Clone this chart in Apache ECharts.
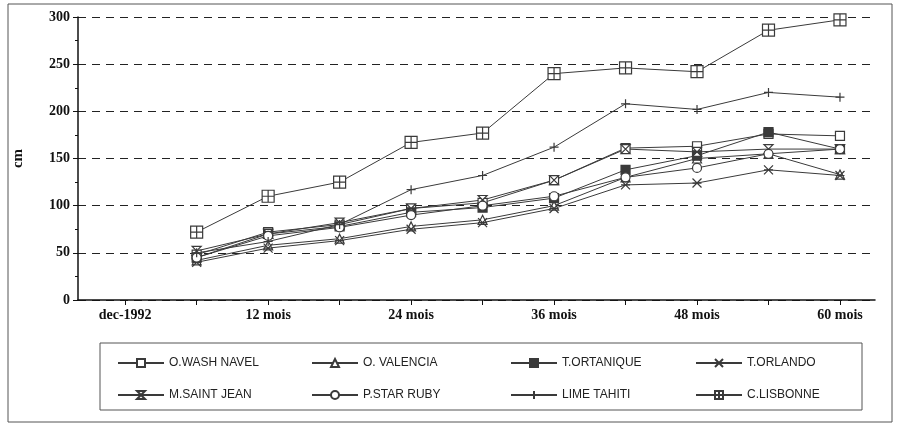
<!DOCTYPE html>
<html><head><meta charset="utf-8">
<script src="https://cdn.jsdelivr.net/npm/echarts@6/dist/echarts.min.js"></script>
<style>html,body{margin:0;padding:0;background:#fff}#c{width:900px;height:426px}</style>
</head><body><div id="c"></div>
<script>
const categories = ['dec-1992','6 mois','12 mois','18 mois','24 mois','30 mois','36 mois','42 mois','48 mois','54 mois','60 mois'];
const tickLabels = ['dec-1992','12 mois','24 mois','36 mois','48 mois','60 mois'];
const seriesNames = ['O.WASH NAVEL','O. VALENCIA','T.ORTANIQUE','T.ORLANDO','M.SAINT JEAN','P.STAR RUBY','LIME TAHITI','C.LISBONNE'];
const washNavel   = [48,72,80,97,103,127,161,163,176,174];
const valencia    = [42,58,65,78,85,100,130,150,155,133];
const ortanique   = [45,70,78,93,98,108,138,153,178,160];
const orlando     = [40,55,63,75,82,97,122,124,138,132];
const saintJean   = [52,70,82,97,106,127,160,157,160,160];
const starRuby    = [45,68,77,90,100,110,130,140,155,160];
const limeTahiti  = [50,62,80,117,132,162,208,202,220,215];
const lisbonne    = [72,110,125,167,177,240,246,242,286,297];
const values = [washNavel,valencia,ortanique,orlando,saintJean,starRuby,limeTahiti,lisbonne];

const symbols = ['rect','triangle','rect','path://M0,0L10,10M0,10L10,0M0,5L10,5','path://M0,0L10,0L0,10L10,10Z','circle','path://M5,0L5,10M0,5L10,5','path://M0,0H10V10H0ZM0,5H10M5,0V10'];
const filled = [false,false,true,false,false,false,false,false];
const col = '#3a3a3a';
const tickIdx = categories.map((c,i)=>i);
const labelIdx = tickLabels.map(t=>categories.indexOf(t));

const series = seriesNames.map((n,k)=>({
  name:n, type:'line', data: values[k].map((v,i)=>[i+1,v]),
  symbol:symbols[k], symbolSize: k===7?12:9, showSymbol:true,
  lineStyle:{color:col,width:1}, itemStyle:{color: filled[k]?col:'#fff', borderColor:col, borderWidth:1.2},
  emphasis:{disabled:true}
}));
const legendX=[112,306,505,690], legendY=[352,384];
const legends = seriesNames.map((n,k)=>({
  data:[n], left:legendX[k%4], top:legendY[Math.floor(k/4)], itemWidth:46, itemHeight:10,
  textStyle:{fontFamily:'Liberation Sans',fontSize:12,color:'#222'}, selectedMode:false
}));
const chart = echarts.init(document.getElementById('c'));
chart.setOption({
  animation:false,
  grid:{left:78,right:25,top:17,bottom:126},
  legend:legends,
  xAxis:{type:'value',min:-0.66,max:10.49,
    axisLine:{onZero:false,lineStyle:{color:'#111',width:1.5}},
    axisTick:{show:true,customValues:tickIdx,length:5,lineStyle:{color:'#111'}},
    axisLabel:{customValues:labelIdx,formatter:v=>categories[Math.round(v)],fontFamily:'Liberation Serif',fontWeight:'bold',fontSize:14,color:'#111',margin:8},
    splitLine:{show:false}},
  yAxis:{type:'value',min:0,max:300,interval:50,name:'cm',nameLocation:'middle',nameGap:52,
    nameTextStyle:{fontFamily:'Liberation Serif',fontWeight:'bold',fontSize:15,color:'#111'},
    axisLine:{show:true,onZero:false,lineStyle:{color:'#111',width:1.5}},
    axisTick:{show:true,length:5,lineStyle:{color:'#111'}},
    minorTick:{show:true,splitNumber:2,length:3,lineStyle:{color:'#111'}},
    axisLabel:{fontFamily:'Liberation Serif',fontWeight:'bold',fontSize:14,color:'#111'},
    splitLine:{show:true,lineStyle:{type:[8,6],color:'#222',width:1.2}}},
  graphic:[
    {type:'rect',shape:{x:8,y:4,width:884,height:418},style:{fill:'none',stroke:'#555',lineWidth:1}},
    {type:'rect',shape:{x:100,y:343,width:762,height:67},style:{fill:'none',stroke:'#555',lineWidth:1}}
  ],
  series
});
</script></body></html>
